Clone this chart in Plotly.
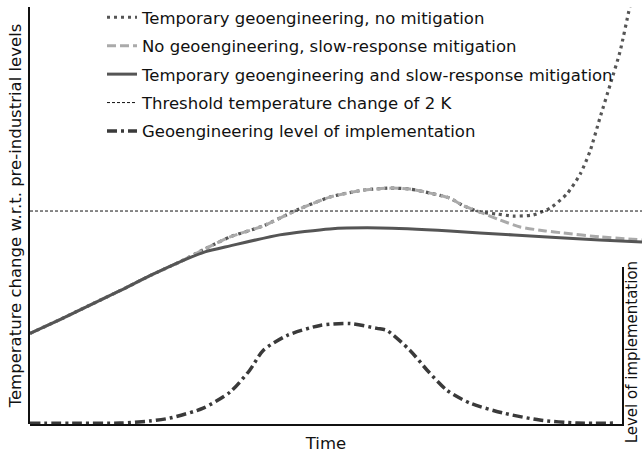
import plotly.graph_objects as go

# ---- data (time in arbitrary units 0..100; temperature in K; implementation level 0..1)
t_solid = [0, 4.9, 9.8, 14.7, 19.6, 24.5, 28.6, 32.7, 40.8, 49.0, 57.2, 68.6, 73.5, 84.5, 93.1, 100]
T_solid = [0.85, 0.981, 1.117, 1.252, 1.393, 1.523, 1.617, 1.673, 1.776, 1.832, 1.841, 1.813,
           1.794, 1.757, 1.729, 1.71]

t_dashed = [0, 4.9, 9.8, 14.7, 19.6, 24.5, 28.6, 32.7, 38.1, 43.6, 49.0, 54.4, 58.8, 62.1, 65.4,
            68.6, 70.8, 73.5, 76.8, 80.1, 84.2, 87.1, 93.1, 100]
T_dashed = [0.85, 0.981, 1.117, 1.252, 1.393, 1.523, 1.645, 1.757, 1.86, 2.009, 2.131, 2.196,
            2.215, 2.206, 2.168, 2.121, 2.05, 1.991, 1.916, 1.85, 1.813, 1.794, 1.757, 1.729]

t_dotted = [0, 4.9, 9.8, 14.7, 19.6, 24.5, 28.6, 32.7, 38.1, 43.6, 49.0, 54.4, 58.8, 62.1, 65.4,
            68.6, 70.8, 73.5, 76.3, 78.9, 82.2, 85.0, 87.7, 89.9, 91.5, 93.1, 94.8, 96.4, 98.0, 99.0]
T_dotted = [0.85, 0.981, 1.117, 1.252, 1.393, 1.523, 1.645, 1.757, 1.86, 2.009, 2.131, 2.196,
            2.215, 2.206, 2.168, 2.121, 2.05, 1.991, 1.972, 1.953, 1.963, 2.028, 2.159, 2.346,
            2.561, 2.869, 3.187, 3.495, 3.916, 4.15]

threshold = 2.0
t_threshold = [0, 100]

t_geo = [0, 8.2, 14.7, 19.6, 22.9, 28.3, 32.7, 35.9, 38.1, 42.0, 47.4, 52.3, 56.7, 58.3, 62.1,
         64.9, 68.1, 71.9, 77.3, 83.3, 89.4, 95.9]
G_geo = [0.005, 0.005, 0.006, 0.019, 0.038, 0.101, 0.203, 0.342, 0.468, 0.563, 0.627, 0.639,
         0.608, 0.595, 0.468, 0.342, 0.215, 0.133, 0.07, 0.025, 0.006, 0.006]

labels = [
    "Temporary geoengineering, no mitigation",
    "No geoengineering, slow-response mitigation",
    "Temporary geoengineering and slow-response mitigation",
    "Threshold temperature change of 2 K",
    "Geoengineering level of implementation",
]

W, H = 642, 455
ML, MR, MT, MB = 30, 0, 5, 31
PW, PH = W - ML - MR, H - MT - MB

fig = go.Figure()
fig.add_trace(go.Scatter(x=t_dotted, y=T_dotted, mode="lines", name=labels[0], legendgroup="a",
                         line=dict(color="#555555", width=3.2, dash="3px,4px",
                                   shape="spline", smoothing=0.6)))
fig.add_trace(go.Scatter(x=t_dashed, y=T_dashed, mode="lines", name=labels[1], legendgroup="b",
                         line=dict(color="#aaaaaa", width=3, dash="9px,4px",
                                   shape="spline", smoothing=0.6)))
fig.add_trace(go.Scatter(x=t_solid, y=T_solid, mode="lines", name=labels[2], legendgroup="c",
                         line=dict(color="#555555", width=3, shape="spline", smoothing=0.6)))
fig.add_trace(go.Scatter(x=t_threshold, y=[threshold, threshold], mode="lines", name=labels[3],
                         legendgroup="d", line=dict(color="#111111", width=1, dash="3px,2px")))
fig.add_trace(go.Scatter(x=t_geo, y=G_geo, mode="lines", name=labels[4], legendgroup="e",
                         xaxis="x2", yaxis="y2",
                         line=dict(color="#3a3a3a", width=3.5, dash="10px,4px,3px,4px",
                                   shape="spline", smoothing=0.7)))

font = dict(family="DejaVu Sans", size=16.5, color="#111111")

fig.update_layout(
    width=W, height=H,
    margin=dict(l=ML, r=MR, t=MT, b=MB),
    paper_bgcolor="white", plot_bgcolor="rgba(0,0,0,0)",
    font=font,
    showlegend=True,
    legend=dict(x=(102 - ML) / PW, y=1.018, xanchor="left", yanchor="top",
                bgcolor="rgba(0,0,0,0)", font=font, tracegroupgap=4,
                itemwidth=30),
    xaxis=dict(domain=[0, 1], range=[0, 100], showline=False, showgrid=False, zeroline=False,
               showticklabels=False, ticks=""),
    yaxis=dict(domain=[0, 1], range=[0, 419 / 107], showline=True, linecolor="#111111",
               linewidth=2, showgrid=False, zeroline=False, showticklabels=False, ticks="",
               title=dict(text="Temperature change w.r.t. pre-industrial levels", font=font,
                          standoff=2)),
    xaxis2=dict(domain=[0, 592 / PW], range=[0, 592 / 6.12], anchor="y2", showline=True,
                linecolor="#111111", linewidth=2, showgrid=False, zeroline=False,
                showticklabels=False, ticks="",
                title=dict(text="Time", font=font, standoff=12)),
    yaxis2=dict(domain=[0, 158 / PH], range=[0, 1], anchor="x2", side="right", showline=True,
                linecolor="#111111", linewidth=2, showgrid=False, zeroline=False,
                showticklabels=False, ticks=""),
    annotations=[dict(text="Level of implementation", textangle=-90, showarrow=False,
                      xref="paper", yref="paper", x=(632 - ML) / PW, y=(H - MB - 352) / PH,
                      xanchor="center", yanchor="middle",
                      font=dict(family="DejaVu Sans", size=15, color="#111111"))],
)

fig.write_html("out.html")
